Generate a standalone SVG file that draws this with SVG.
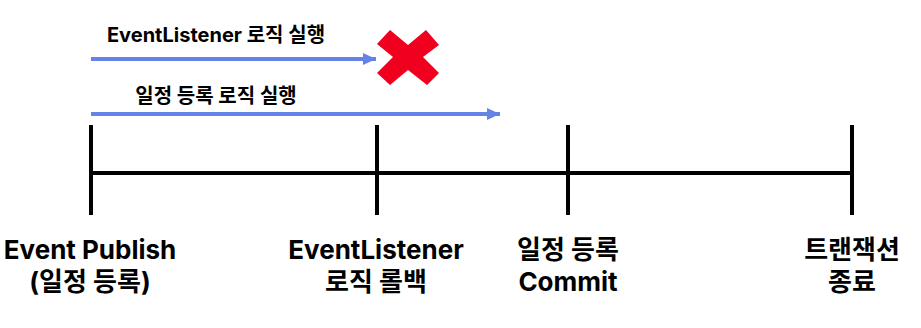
<svg xmlns="http://www.w3.org/2000/svg" width="921" height="328" viewBox="0 0 921 328">
<style>
.lbl{font-family:Inter,"Noto Sans CJK KR",sans-serif;font-weight:700;fill:#000;text-anchor:middle}
.big{font-size:26px}
.sm{font-size:20px}
.axis{stroke:#000;stroke-width:4;fill:none}
.arr{stroke:#6383E8;stroke-width:4;fill:none}
</style>
<defs>
<marker id="ah" markerWidth="13" markerHeight="12" refX="13" refY="6" orient="auto" markerUnits="userSpaceOnUse">
<path d="M0,0 L13,6 L0,12 Z" fill="#6383E8"/>
</marker>
</defs>
<rect width="921" height="328" fill="#fff"/>
<g id="connectors">
<line class="axis" x1="91" y1="173" x2="852" y2="173"/>
<line class="arr" x1="91" y1="59" x2="376" y2="59" marker-end="url(#ah)"/>
<line class="arr" x1="91" y1="114" x2="500" y2="114" marker-end="url(#ah)"/>
</g>
<g id="tick-publish"><line class="axis" x1="91" y1="125" x2="91" y2="215"/>
<text class="lbl big" x="90" y="259">Event Publish</text>
<text class="lbl big" x="90" y="291">(일정 등록)</text></g>
<g id="tick-rollback"><line class="axis" x1="377" y1="125" x2="377" y2="215"/>
<text class="lbl big" x="376" y="259">EventListener</text>
<text class="lbl big" x="376" y="291">로직 롤백</text></g>
<g id="tick-commit"><line class="axis" x1="568" y1="125" x2="568" y2="215"/>
<text class="lbl big" x="568" y="259">일정 등록</text>
<text class="lbl big" x="568" y="291">Commit</text></g>
<g id="tick-end"><line class="axis" x1="852" y1="125" x2="852" y2="215"/>
<text class="lbl big" x="852" y="259">트랜잭션</text>
<text class="lbl big" x="852" y="291">종료</text></g>
<g id="label-listener"><text class="lbl sm" x="216" y="42">EventListener 로직 실행</text></g>
<g id="label-register"><text class="lbl sm" x="216" y="103">일정 등록 로직 실행</text></g>
<g id="cross"><polygon fill="#F0001E" points="377,44 390,30 408,45 426,30 439,45 423,57 439,73 427,85 408,70 390,85 377,73 393,57"/></g>
</svg>
